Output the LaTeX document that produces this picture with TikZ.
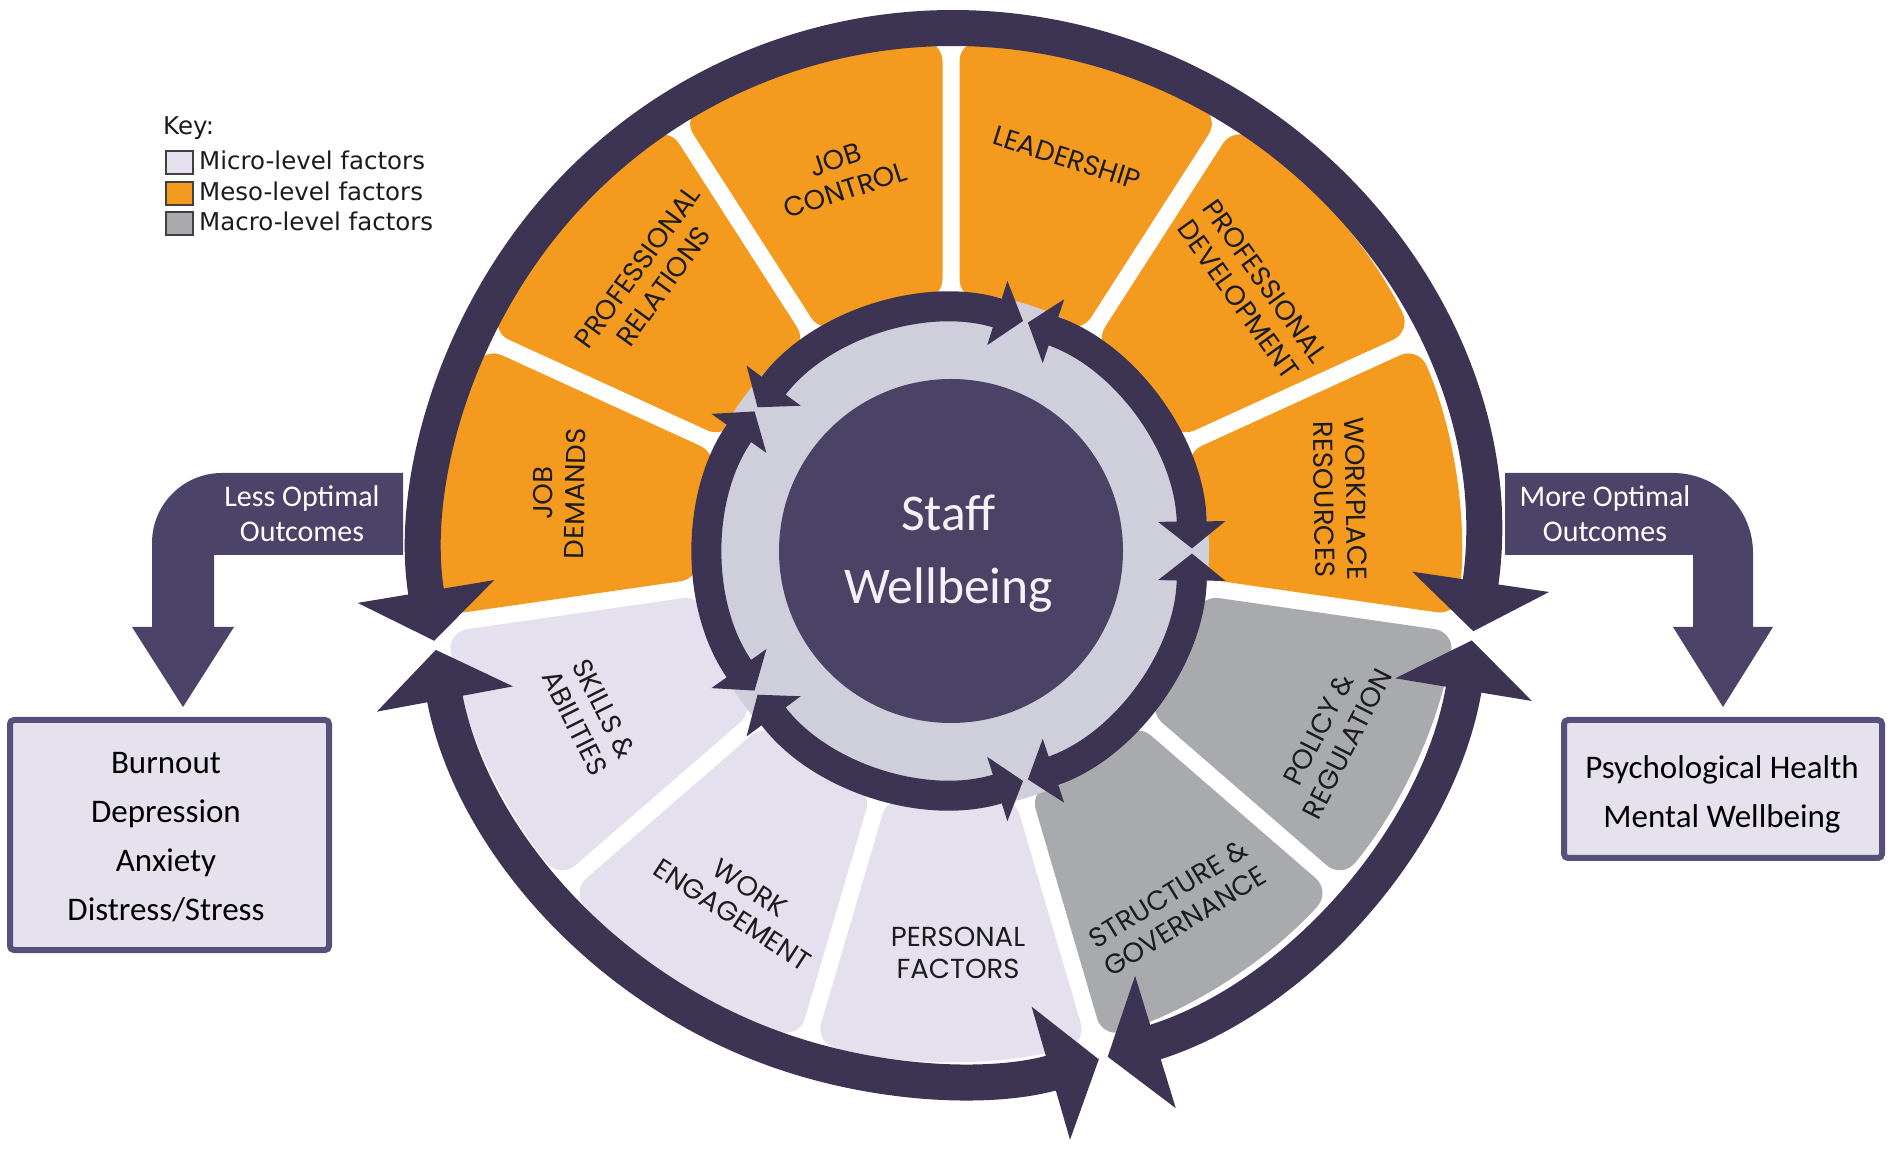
\documentclass[tikz,border=0pt]{standalone}
\usepackage{fontspec}
\setmainfont{Carlito}
\newfontfamily\legendfont{DejaVu Sans}
\newfontfamily\labelfont{Poppins}
\usetikzlibrary{arrows.meta}
\definecolor{cMeso}{HTML}{F39A1F}
\definecolor{cMicro}{HTML}{E4E0EE}
\definecolor{cMacro}{HTML}{A9AAAE}
\definecolor{cRing}{HTML}{3C3452}
\definecolor{cCenter}{HTML}{4B4365}
\definecolor{cDisc}{HTML}{CFCFDB}
\definecolor{cBand}{HTML}{4C4468}
\definecolor{cBoxFill}{HTML}{E5E2EE}
\definecolor{cBoxLine}{HTML}{57507A}
\definecolor{cText}{HTML}{1C1C1C}
\definecolor{cWhite}{HTML}{F4F2F8}
\begin{document}
\begin{tikzpicture}[x=1pt,y=1pt,
  outerarc/.style={draw=cRing, line width=36pt, >={Triangle[width=136pt,length=50pt]}, <->},
  innerarc/.style={draw=cRing, line width=30pt, >={Triangle[width=66pt,length=27pt]}, <->},
  seglabel/.style={font=\labelfont\fontsize{27.5}{32}\selectfont, text=cText, align=center, inner sep=0pt},
  bandtext/.style={font=\fontsize{30}{35}\selectfont, text=white, align=center, inner sep=0pt},
  boxtext/.style={font=\fontsize{33}{49}\selectfont, text=black, align=center, inner sep=0pt},
  outbox/.style={fill=cBoxFill, draw=cBoxLine, line width=6pt, rounded corners=4pt, inner sep=0pt},
  keytext/.style={font=\legendfont\fontsize{24.5}{28}\selectfont, text=cText, anchor=base west, inner sep=0pt},
  swatch/.style={draw=black!75, line width=2pt, minimum width=27pt, minimum height=23pt, inner sep=0pt},
  title/.style={font=\fontsize{51.5}{60}\selectfont, text=cWhite, anchor=base, inner sep=0pt}
]
\useasboundingbox (0,0) rectangle (1893,1152);
\fill[white] (0,0) rectangle (1893,1152);

% ---------- segments, inner disc and inner ring ----------
\begin{scope}[shift={(951,601)}]
  \def\Ro{510}\def\Ri{252}\def\dO{0.955}\def\dI{1.933}
  \foreach \i/\col in {0/cMeso,1/cMeso,2/cMeso,3/cMacro,4/cMacro,5/cMicro,6/cMicro,7/cMicro,8/cMeso,9/cMeso,10/cMeso} {
    \pgfmathsetmacro\b{90-\i*360/11}
    \pgfmathsetmacro\a{90-(\i+1)*360/11}
    \fill[\col, rounded corners=20pt] ({\a+\dO}:\Ro) arc[start angle={\a+\dO}, end angle={\b-\dO}, radius=\Ro]
      -- ({\b-\dI}:\Ri) arc[start angle={\b-\dI}, end angle={\a+\dI}, radius=\Ri] -- cycle;
  }
  \fill[cDisc] (0,0) circle[radius=258];
  \foreach \k in {0,...,4} {
    \draw[innerarc] ({72*\k+0.6}:241) arc[start angle={72*\k+0.6}, end angle={72*\k+71.4}, radius=241];
  }
  \fill[cCenter] (0,0) circle[radius=172];

  \node[seglabel, rotate=-17.5] (lLead) at (73.6:410) {LEADERSHIP};
  \node[seglabel, rotate=18] (lCtrl) at (106.4:392) {JOB\\CONTROL};
  \node[seglabel, rotate=54, xshift=10pt, yshift=-8pt] (lRel) at (139.1:414) {PROFESSIONAL\\RELATIONS};
  \node[seglabel, rotate=89, yshift=-9pt] (lDem) at (171.8:405) {JOB\\DEMANDS};
  \node[seglabel, rotate=-63.5, yshift=-3pt] (lSkill) at (204.5:394) {SKILLS \&\\ABILITIES};
  \node[seglabel, rotate=-33, xshift=13pt, yshift=9pt] (lEng) at (237.3:417) {WORK\\ENGAGEMENT};
  \node[seglabel, rotate=0, xshift=7pt] (lPers) at (270:402) {PERSONAL\\FACTORS};
  \node[seglabel, rotate=31.5, xshift=-3pt, yshift=3pt] (lStruct) at (302.7:425) {STRUCTURE \&\\GOVERNANCE};
  \node[seglabel, rotate=63, xshift=-10pt, yshift=-8pt] (lPol) at (335.45:417) {POLICY \&\\REGULATION};
  \node[seglabel, rotate=-89, xshift=5pt, yshift=-6pt] (lRes) at (8.2:399) {WORKPLACE\\RESOURCES};
  \node[seglabel, rotate=-54.5] (lDev) at (40.9:398) {PROFESSIONAL\\DEVELOPMENT};
\end{scope}

% ---------- outer ring ----------
\begin{scope}[shift={(953,598)}]
  \draw[outerarc] (-8.45:526) arc[start angle=-8.45, end angle=189.5, radius=526];
  \draw[outerarc] (-72.9:526) arc[start angle=-72.9, end angle=-9.45, radius=526];
  \draw[outerarc] (190.5:526) arc[start angle=190.5, end angle=286.1, radius=526];
\end{scope}

% ---------- centre title ----------
\node[title] (staff) at (948.5,621) {Staff};
\node[title] (wellbeing) at (948.5,548) {Wellbeing};

% ---------- outcome arrows ----------
\fill[cBand] (403,679) -- (222,679) arc[start angle=90, end angle=180, radius=70] -- (152,525)
  -- (132,525) -- (183,445) -- (234,525) -- (214,525) -- (214,597) -- (403,597) -- cycle;
\node[bandtext] (less) at (302,638) {Less Optimal\\Outcomes};
\fill[cBand] (1505,679) -- (1673,679) arc[start angle=90, end angle=0, radius=80] -- (1753,525)
  -- (1773,525) -- (1723,445) -- (1673,525) -- (1693,525) -- (1693,597) -- (1505,597) -- cycle;
\node[bandtext] (more) at (1605,638) {More Optimal\\Outcomes};

% ---------- outcome boxes ----------
\node[outbox, minimum width=319pt, minimum height=230pt] (negbox) at (169.5,317) {};
\node[boxtext] (negtext) at (166,315) {Burnout\\Depression\\Anxiety\\Distress/Stress};
\node[outbox, minimum width=318pt, minimum height=138pt] (posbox) at (1723,363) {};
\node[boxtext] (postext) at (1722,358) {Psychological Health\\Mental Wellbeing};

% ---------- key ----------
\node[keytext] (key) at (163,1017) {Key:};
\node[swatch, fill=cMicro] (swMicro) at (179,989.5) {};
\node[swatch, fill=cMeso] (swMeso) at (179,958.7) {};
\node[swatch, fill=cMacro] (swMacro) at (179,928.7) {};
\node[keytext] (kMicro) at (199,982) {Micro-level factors};
\node[keytext] (kMeso) at (199,951) {Meso-level factors};
\node[keytext] (kMacro) at (199,921) {Macro-level factors};
\end{tikzpicture}
\end{document}
